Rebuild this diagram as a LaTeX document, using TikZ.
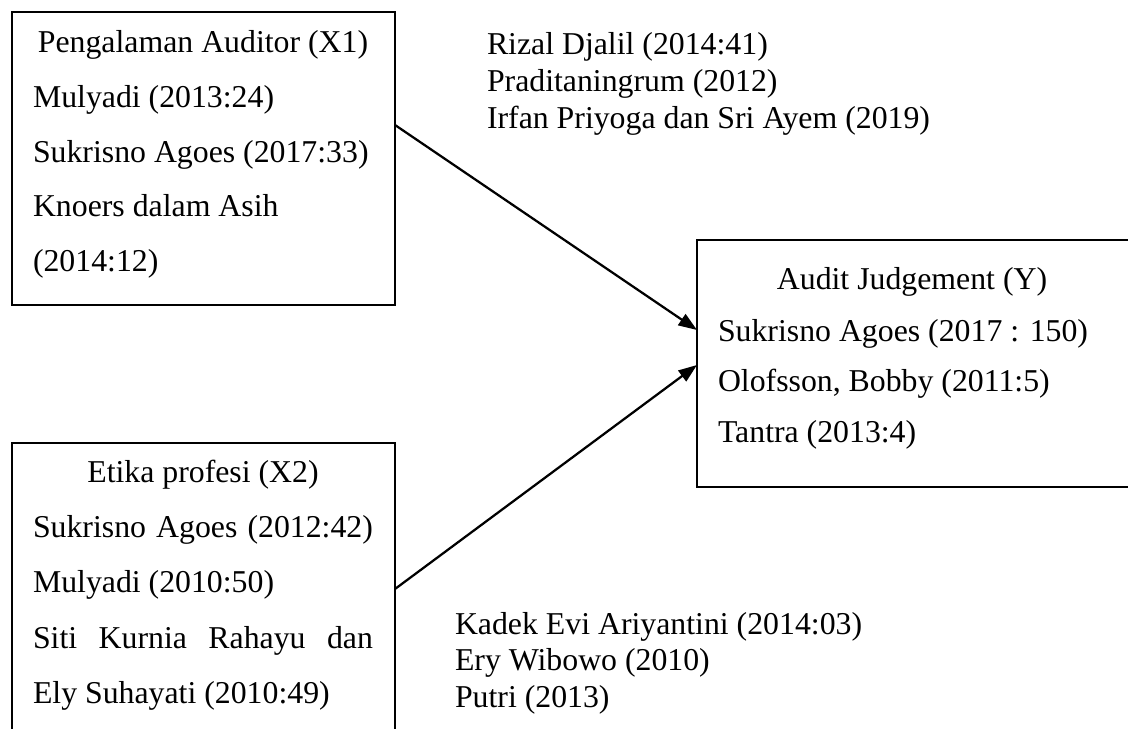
\documentclass[tikz,border=0pt]{standalone}
\usepackage{fontspec}
\setmainfont{Liberation Serif}
\usetikzlibrary{arrows.meta,fit}
\tikzset{
  txt/.style={inner sep=0pt, outer sep=0pt, font=\fontsize{12pt}{14pt}\selectfont},
  line/.style={txt, anchor=base west},
  title/.style={txt, anchor=base},
  box/.style={draw=black, line width=0.8pt, inner sep=0pt, outer sep=0pt},
  arr/.style={draw=black, line width=0.85pt, -{Triangle[length=7pt,width=5pt]}},
}
\newcommand{\jline}[1]{\makebox[128.3pt][s]{#1}}
\begin{document}
\begin{tikzpicture}[x=0.3774pt,y=-0.3774pt]
\clip (0,0) rectangle (1128,729);
\fill[white] (0,0) rectangle (1128,729);
% boxes
\node[box, fit={(12,12) (395,305)}] (x1) {};
\node[box, fit={(12,443) (395,770)}] (x2) {};
\node[box, fit={(697,240) (1170,487)}] (y) {};
% box 1 text
\node[title] (x1t) at (203,53) {Pengalaman Auditor (X1)};
\node[line] (x1a) at (33,107.6) {Mulyadi (2013:24)};
\node[line] (x1b) at (33,162.2) {Sukrisno Agoes (2017:33)};
\node[line] (x1c) at (33,216.8) {Knoers dalam Asih};
\node[line] (x1d) at (33,271.4) {(2014:12)};
% box 2 text
\node[title] (x2t) at (203,483) {Etika profesi (X2)};
\node[line] (x2a) at (33,538) {\jline{Sukrisno Agoes (2012:42)}};
\node[line] (x2b) at (33,593) {Mulyadi (2010:50)};
\node[line] (x2c) at (33,648) {\jline{Siti Kurnia Rahayu dan}};
\node[line] (x2d) at (33,703) {Ely Suhayati (2010:49)};
% box 3 text
\node[title] (yt) at (912,290) {Audit Judgement (Y)};
\node[line] (ya) at (718,341.5) {Sukrisno Agoes (2017 : 150)};
\node[line] (yb) at (718,392) {Olofsson, Bobby (2011:5)};
\node[line] (yc) at (718,443) {Tantra (2013:4)};
% free texts
\node[line] (r1) at (487,55) {Rizal Djalil (2014:41)};
\node[line] (r2) at (487,91.6) {Praditaningrum (2012)};
\node[line] (r3) at (487,128.2) {Irfan Priyoga dan Sri Ayem (2019)};
\node[line] (k1) at (455,634) {Kadek Evi Ariyantini (2014:03)};
\node[line] (k2) at (455,670.5) {Ery Wibowo (2010)};
\node[line] (k3) at (455,707) {Putri (2013)};
% connectors
\coordinate (s1) at (x1.east |- 0,125);
\coordinate (e1) at (y.west |- 0,330);
\coordinate (s2) at (x2.east |- 0,589);
\coordinate (e2) at (y.west |- 0,365);
\draw[arr] (s1) -- (e1);
\draw[arr] (s2) -- (e2);
\end{tikzpicture}
\end{document}
